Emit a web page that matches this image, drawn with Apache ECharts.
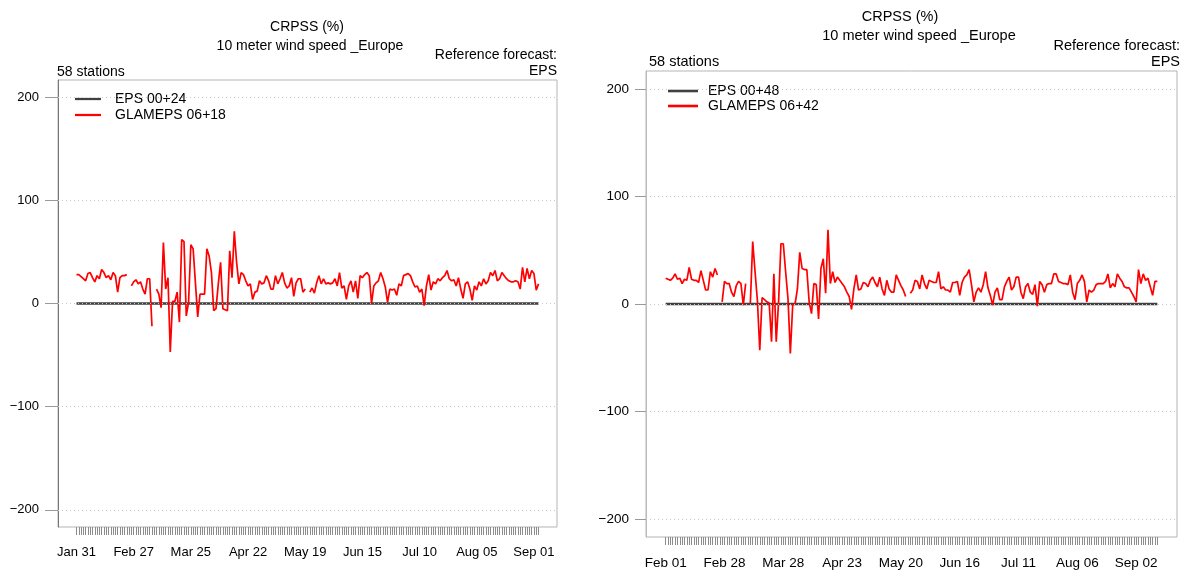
<!DOCTYPE html>
<html>
<head>
<meta charset="utf-8">
<script src="https://cdn.jsdelivr.net/npm/echarts@6/dist/echarts.min.js"></script>
<style>
html,body{margin:0;padding:0;background:#fff;}
#c{width:1184px;height:572px;}
</style>
</head>
<body>
<div id="c"></div>
<script>
// ---- data ----
const leftXLabels = ['Jan 31','Feb 27','Mar 25','Apr 22','May 19','Jun 15','Jul 10','Aug 05','Sep 01'];
const rightXLabels = ['Feb 01','Feb 28','Mar 28','Apr 23','May 20','Jun 16','Jul 11','Aug 06','Sep 02'];
const xLabelIndex = [0,25,50,75,100,125,150,175,200];
const yTicks = [-200,-100,0,100,200];

const leftNames = ['EPS 00+24','GLAMEPS 06+18'];
const rightNames = ['EPS 00+48','GLAMEPS 06+42'];

// GLAMEPS 06+18 CRPSS vs EPS 00+24 (%)
const leftGlam = [
 28,28,26,24,22,29,30,25,21,27,24,33,30,25,27,23,30,27,11,25,27,27,28,
 null,
 17,21,23,19,21,14,9,24,24,-22,
 null,
 14,9,-4,59,14,25,-47,2,2,11,-18,62,60,-12,1,57,53,20,-13,9,9,9,53,46,30,-7,-5,19,40,
 -5,-6,-7,51,25,70,40,19,30,28,22,17,19,4,11,12,22,19,20,27,22,14,14,27,19,24,30,20,15,17,25,7,20,24,24,11,14,
 null,
 11,15,10,20,27,19,24,19,20,19,20,24,17,30,15,17,4,17,22,11,22,5,27,25,28,30,27,0,17,20,22,30,
 24,16,1,14,13,14,8,19,17,27,28,29,27,21,16,17,11,14,-2,17,28,13,21,19,24,22,25,27,32,24,22,23,17,25,14,5,
 19,21,14,3,17,13,21,17,24,19,22,30,27,32,22,24,30,27,24,22,21,21,22,21,14,35,21,34,24,32,29,13,19
];

// GLAMEPS 06+42 CRPSS vs EPS 00+48 (%)
const rightGlam = [
 24,23,22,24,28,23,24,19,23,22,34,23,22,22,20,31,22,13,13,30,25,33,27,
 null,
 2,21,19,19,11,7,17,21,19,-1,19,
 null,
 1,58,30,3,-43,6,4,2,1,-35,28,-35,2,56,56,30,5,-46,-1,0,14,48,33,32,32,2,-9,19,18,-14,
 33,42,10,69,19,30,20,25,22,19,16,11,7,-5,14,27,13,14,20,19,16,22,25,20,16,25,14,8,22,14,11,11,27,22,17,13,7,
 null,
 10,13,22,21,14,27,19,14,22,21,20,20,30,14,16,13,13,11,20,20,21,8,20,25,
 27,32,18,2,11,15,11,18,30,15,8,-1,11,15,4,4,16,21,25,13,16,25,25,11,5,16,19,11,9,18,-2,21,18,11,18,
 19,19,28,28,21,20,19,19,18,27,11,4,19,22,27,21,2,13,11,13,18,19,19,19,21,28,15,19,16,28,24,21,16,15,15,
 11,7,2,32,19,28,22,24,16,8,21,21
];

// EPS is the reference forecast: its skill against itself is 0 on every date
const epsSkill = 0;

// ---- chart ----
const FONT = 'Liberation Sans, Arial, sans-serif';
const toPts = arr => arr.map((v, i) => [i, v]);
const epsPts = arr => arr.map((v, i) => [i, epsSkill]);
const minus = v => String(v).replace('-', '\u2212');

function makeAxes(gi, n, labels, ymax, fs, axisColor, labelMargin, yTickLen) {
  const pad = (n - 1) * 0.04;
  const idx = Array.from({length: n}, (_, i) => i);
  return {
    x: {
      type: 'value', gridIndex: gi, min: -pad, max: n - 1 + pad,
      axisLine: {show: false, onZero: false},
      splitLine: {show: false},
      axisTick: {show: true, customValues: idx, length: 8, lineStyle: {color: '#8c8c8c', width: 1}},
      axisLabel: {show: true, customValues: xLabelIndex, margin: labelMargin, fontSize: fs, fontFamily: FONT, color: '#000',
        formatter: v => labels[xLabelIndex.indexOf(Math.round(v))] || ''}
    },
    y: {
      type: 'value', gridIndex: gi, min: -ymax, max: ymax,
      axisLine: {show: true, onZero: false, lineStyle: {color: axisColor, width: 1}},
      splitLine: {show: false},
      axisTick: {show: true, customValues: yTicks, length: yTickLen, lineStyle: {color: '#999'}},
      axisLabel: {show: true, customValues: yTicks, margin: yTickLen + 6, fontSize: fs, fontFamily: FONT, color: '#000', formatter: minus}
    }
  };
}

const la = makeAxes(0, leftGlam.length, leftXLabels, 216.6, 13, '#777', 19, 13);
const ra = makeAxes(1, rightGlam.length, rightXLabels, 216.6, 13.5, '#bbb', 19, 11);

const gridLines = {
  silent: true, symbol: ['none','none'], animation: false,
  label: {show: false},
  lineStyle: {type: [1, 3], color: '#c8c8c8', width: 1},
  data: yTicks.map(v => ({yAxis: v}))
};

function txt(x, y, s, align, fs) {
  return {type: 'text', x: x, y: y, style: {text: s, fill: '#000', font: fs + 'px ' + FONT, textAlign: align, textVerticalAlign: 'middle'}};
}

const lineIcon = 'path://M0,0 L30,0 L30,2.6 L0,2.6 Z';

const option = {
  animation: false,
  backgroundColor: '#fff',
  grid: [
    {left: 58, top: 80, width: 499, height: 447, show: true, borderColor: '#b5b5b5', borderWidth: 1, backgroundColor: 'transparent'},
    {left: 646, top: 71, width: 531, height: 466, show: true, borderColor: '#b5b5b5', borderWidth: 1, backgroundColor: 'transparent'}
  ],
  xAxis: [la.x, ra.x],
  yAxis: [la.y, ra.y],
  legend: [
    {data: leftNames, orient: 'vertical', left: 70, top: 87, icon: lineIcon, itemWidth: 26, itemHeight: 2.6, itemGap: 2,
     textStyle: {fontSize: 14, fontFamily: FONT, color: '#000', padding: [0,0,0,9]}},
    {data: rightNames, orient: 'vertical', left: 663, top: 79, icon: lineIcon, itemWidth: 32, itemHeight: 2.6, itemGap: 1,
     textStyle: {fontSize: 14, fontFamily: FONT, color: '#000', padding: [0,0,0,4]}}
  ],
  graphic: [
    txt(307, 27, 'CRPSS (%)', 'center', 14),
    txt(310, 46, '10 meter wind speed _Europe', 'center', 14),
    txt(557, 55, 'Reference forecast:', 'right', 14),
    txt(557, 71, 'EPS', 'right', 14),
    txt(57, 72, '58 stations', 'left', 14),
    txt(900, 17, 'CRPSS (%)', 'center', 14.5),
    txt(919, 36, '10 meter wind speed _Europe', 'center', 14.5),
    txt(1180, 46, 'Reference forecast:', 'right', 14.5),
    txt(1180, 62, 'EPS', 'right', 14.5),
    txt(649, 62, '58 stations', 'left', 14.5)
  ],
  series: [
    {name: leftNames[0], type: 'line', xAxisIndex: 0, yAxisIndex: 0, data: epsPts(leftGlam), showSymbol: false, symbol: 'none',
     lineStyle: {color: '#404040', width: 2.6}, itemStyle: {color: '#404040'}, markLine: gridLines, z: 2},
    {name: leftNames[1], type: 'line', xAxisIndex: 0, yAxisIndex: 0, data: toPts(leftGlam), showSymbol: false, symbol: 'none',
     connectNulls: false, lineStyle: {color: '#ff0000', width: 1.7}, itemStyle: {color: '#ff0000'}, z: 3},
    {name: rightNames[0], type: 'line', xAxisIndex: 1, yAxisIndex: 1, data: epsPts(rightGlam), showSymbol: false, symbol: 'none',
     lineStyle: {color: '#404040', width: 2.6}, itemStyle: {color: '#404040'}, markLine: gridLines, z: 2},
    {name: rightNames[1], type: 'line', xAxisIndex: 1, yAxisIndex: 1, data: toPts(rightGlam), showSymbol: false, symbol: 'none',
     connectNulls: false, lineStyle: {color: '#ff0000', width: 1.7}, itemStyle: {color: '#ff0000'}, z: 3}
  ]
};

const chart = echarts.init(document.getElementById('c'), null, {renderer: 'canvas'});
chart.setOption(option);
</script>
</body>
</html>
